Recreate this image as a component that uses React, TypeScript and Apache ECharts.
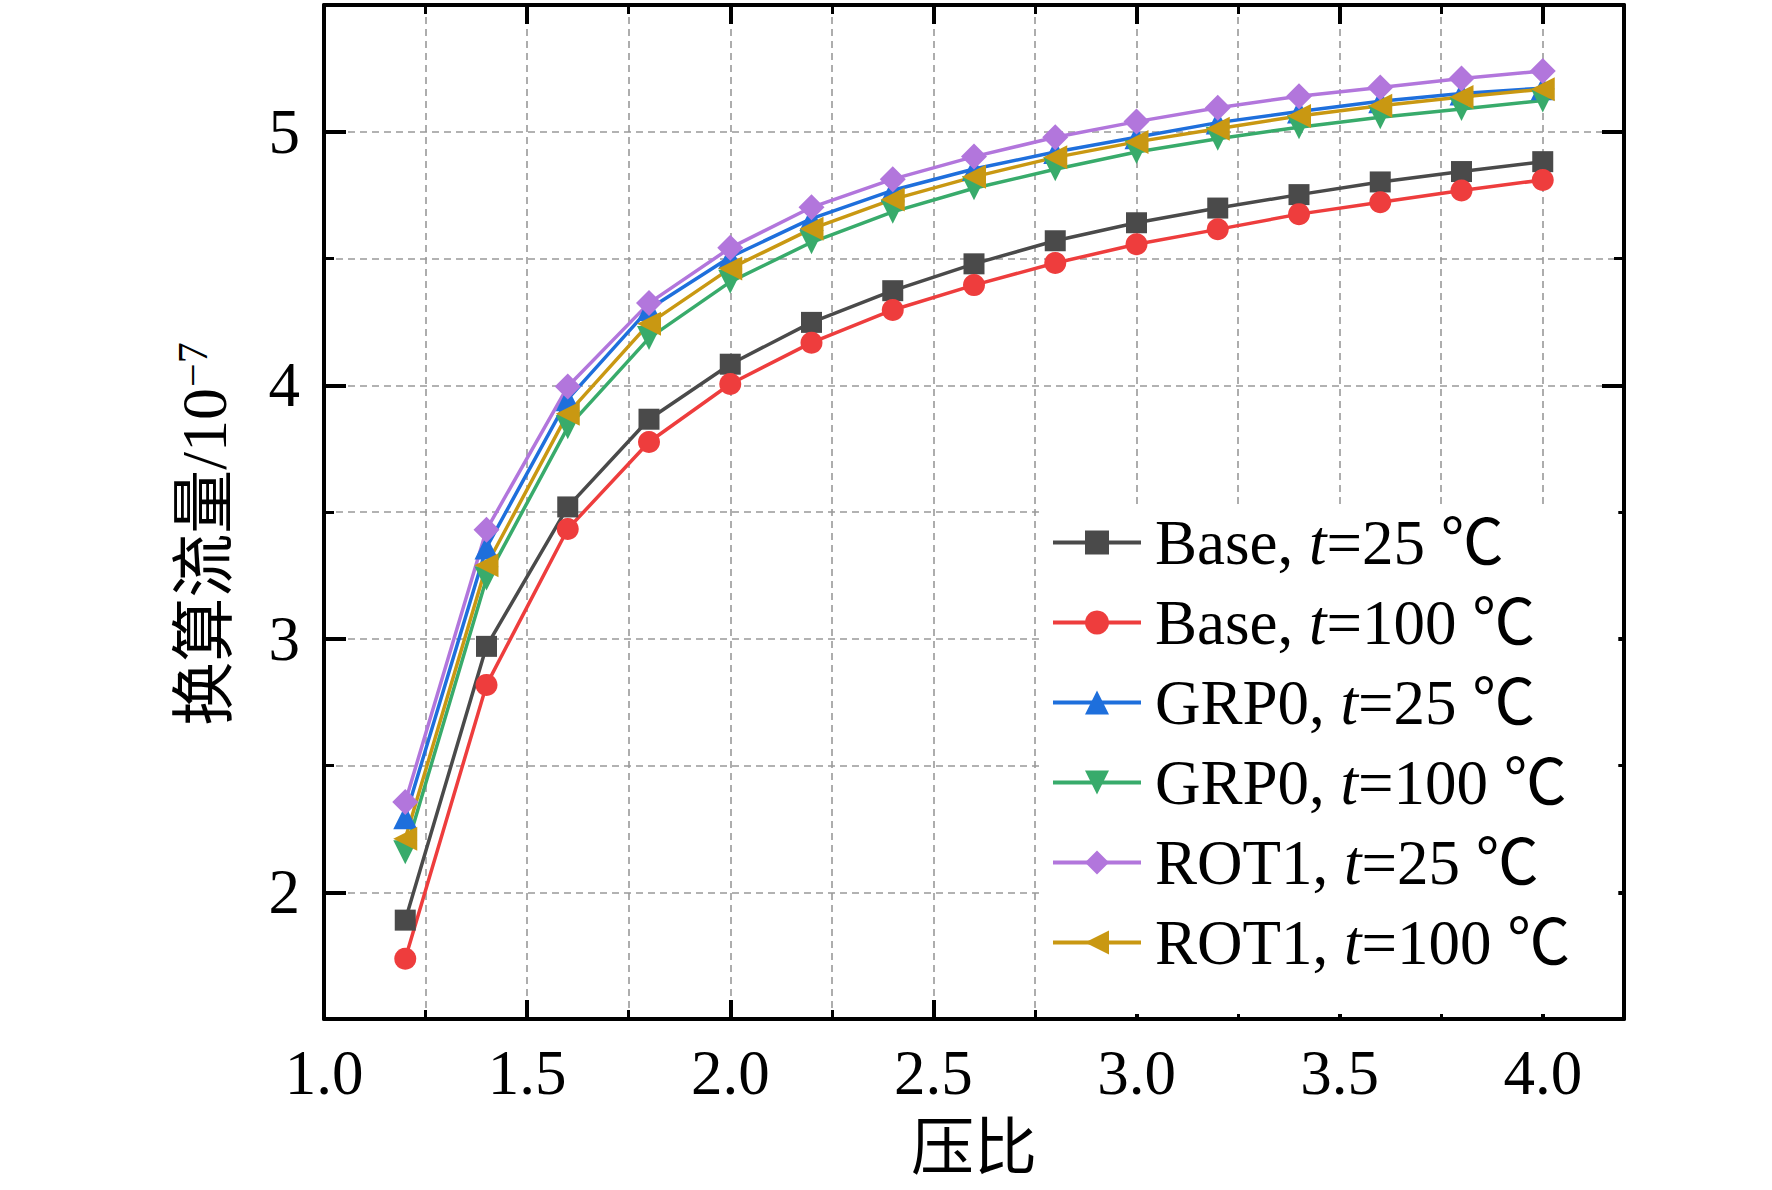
import React, { useEffect, useRef } from "react";
import * as echarts from "echarts";

const xValues = [1.2, 1.4, 1.6, 1.8, 2.0, 2.2, 2.4, 2.6, 2.8, 3.0, 3.2, 3.4, 3.6, 3.8, 4.0];
const base25 = [1.89, 2.97, 3.52, 3.866, 4.083, 4.248, 4.373, 4.479, 4.57, 4.641, 4.699, 4.752, 4.802, 4.843, 4.882];
const base100 = [1.738, 2.818, 3.433, 3.776, 4.005, 4.168, 4.297, 4.395, 4.482, 4.556, 4.615, 4.675, 4.722, 4.768, 4.81];
const grp25 = [2.296, 3.36, 3.945, 4.301, 4.506, 4.657, 4.769, 4.853, 4.92, 4.978, 5.036, 5.08, 5.12, 5.151, 5.172];
const grp100 = [2.158, 3.238, 3.834, 4.186, 4.408, 4.564, 4.684, 4.777, 4.852, 4.92, 4.972, 5.018, 5.057, 5.09, 5.123];
const rot25 = [2.356, 3.43, 3.995, 4.324, 4.542, 4.702, 4.813, 4.902, 4.978, 5.04, 5.095, 5.14, 5.175, 5.21, 5.24];
const rot100 = [2.211, 3.29, 3.888, 4.243, 4.461, 4.617, 4.733, 4.822, 4.899, 4.96, 5.012, 5.062, 5.103, 5.137, 5.168];

const seriesNames = [
  "Base, t=25 ℃",
  "Base, t=100 ℃",
  "GRP0, t=25 ℃",
  "GRP0, t=100 ℃",
  "ROT1, t=25 ℃",
  "ROT1, t=100 ℃",
];
const seriesValues = [base25, base100, grp25, grp100, rot25, rot100];
const seriesColors = ["#4a4a4a", "#ee3d3d", "#1e6fdc", "#38ab6b", "#b276dc", "#c99812"];
const seriesSymbols = ["rect", "circle", "triangle", "triangle", "diamond", "triangle"];
const seriesRotate = [0, 0, 0, 180, 0, 90];
const seriesSymbolSize = [21, 22, 24, 24, 26, 24];

const yMajorTicks = [2, 3, 4, 5];

const FONT = "'Liberation Serif', 'Noto Sans CJK SC', serif";

export default function App() {
  const ref = useRef<HTMLDivElement>(null);

  useEffect(() => {
    document.body.style.margin = "0";
    if (!ref.current) return;
    const chart = echarts.init(ref.current, null, { renderer: "svg" });

    const gridLine = { show: true, lineStyle: { color: "#999", width: 1.6, type: [7, 5] as any } };
    const black = { color: "#000", width: 4 };

    const xCommon = { type: "value", min: 1, max: 4.2 };
    const yCommon = { type: "value", min: 1.5, max: 5.5 };

    const option: any = {
      animation: false,
      backgroundColor: "#fff",
      grid: { left: 324, right: 148, top: 5, bottom: 171, containLabel: false },
      xAxis: [
        {
          ...xCommon,
          position: "bottom",
          interval: 0.25,
          axisLine: { show: true, onZero: false, lineStyle: black },
          axisTick: { show: true, inside: true, length: 9, lineStyle: { color: "#000", width: 3 } },
          axisLabel: {
            show: true,
            margin: 22,
            fontFamily: FONT,
            fontSize: 63,
            color: "#000",
            formatter: (v: number) =>
              Math.abs(v * 2 - Math.round(v * 2)) < 1e-9 && v <= 4.0001 ? v.toFixed(1) : "",
          },
          splitLine: gridLine,
          name: "压比",
          nameLocation: "middle",
          nameGap: 97,
          nameTextStyle: { fontFamily: FONT, fontSize: 63, color: "#000" },
        },
        {
          ...xCommon,
          position: "bottom",
          interval: 0.5,
          axisLine: { show: false, onZero: false },
          axisTick: { show: true, inside: true, length: 19, lineStyle: { color: "#000", width: 4 } },
          axisLabel: { show: false },
          splitLine: { show: false },
        },
        {
          ...xCommon,
          position: "top",
          interval: 0.25,
          axisLine: { show: true, onZero: false, lineStyle: black },
          axisTick: { show: true, inside: true, length: 9, lineStyle: { color: "#000", width: 3 } },
          axisLabel: { show: false },
          splitLine: { show: false },
        },
        {
          ...xCommon,
          position: "top",
          interval: 0.5,
          axisLine: { show: false, onZero: false },
          axisTick: { show: true, inside: true, length: 19, lineStyle: { color: "#000", width: 4 } },
          axisLabel: { show: false },
          splitLine: { show: false },
        },
      ],
      yAxis: [
        {
          ...yCommon,
          position: "left",
          interval: 0.5,
          axisLine: { show: true, onZero: false, lineStyle: black },
          axisTick: { show: true, inside: true, length: 10, lineStyle: { color: "#000", width: 3 } },
          axisLabel: {
            show: true,
            margin: 24,
            fontFamily: FONT,
            fontSize: 63,
            color: "#000",
            formatter: (v: number) => (Math.abs(v - Math.round(v)) < 1e-9 ? String(Math.round(v)) : ""),
          },
          splitLine: gridLine,
          name: "{a|换算流量/10}{b|−7}",
          nameLocation: "middle",
          nameGap: 88,
          nameRotate: 90,
          nameTextStyle: {
            fontFamily: FONT,
            fontSize: 64,
            color: "#000",
            padding: [0, 44, 0, 0],
            rich: {
              a: { fontFamily: FONT, fontSize: 64, lineHeight: 64, color: "#000" },
              b: { fontFamily: FONT, fontSize: 42, lineHeight: 42, verticalAlign: "top", color: "#000", padding: [0, 0, 0, 1] },
            },
          },
        },
        {
          ...yCommon,
          position: "left",
          interval: 0.5,
          axisLine: { show: false, onZero: false },
          axisTick: {
            show: true,
            inside: true,
            length: 22,
            customValues: yMajorTicks,
            lineStyle: { color: "#000", width: 4 },
          },
          axisLabel: { show: false },
          splitLine: { show: false },
        },
        {
          ...yCommon,
          position: "right",
          interval: 0.5,
          axisLine: { show: true, onZero: false, lineStyle: black },
          axisTick: { show: true, inside: true, length: 10, lineStyle: { color: "#000", width: 3 } },
          axisLabel: { show: false },
          splitLine: { show: false },
        },
        {
          ...yCommon,
          position: "right",
          interval: 0.5,
          axisLine: { show: false, onZero: false },
          axisTick: {
            show: true,
            inside: true,
            length: 22,
            customValues: yMajorTicks,
            lineStyle: { color: "#000", width: 4 },
          },
          axisLabel: { show: false },
          splitLine: { show: false },
        },
      ],
      legend: {
        orient: "vertical",
        left: 1040,
        top: 509,
        padding: [2, 48, 40, 11],
        backgroundColor: "#fff",
        itemWidth: 88,
        itemHeight: 30,
        itemGap: 17,
        selectedMode: false,
        data: seriesNames,
        formatter: (name: string) => name.replace("t=", "{i|t}="),
        lineStyle: { width: 4 },
        textStyle: {
          fontFamily: FONT,
          fontSize: 63,
          lineHeight: 63,
          color: "#000",
          padding: [0, 0, 0, 9],
          rich: {
            i: { fontFamily: FONT, fontSize: 63, lineHeight: 63, fontStyle: "italic", color: "#000" },
          },
        },
      },
      series: seriesNames.map((name, k) => ({
        name,
        type: "line",
        xAxisIndex: 0,
        yAxisIndex: 0,
        data: xValues.map((x, i) => [x, seriesValues[k][i]]),
        symbol: seriesSymbols[k],
        symbolRotate: seriesRotate[k],
        symbolSize: seriesSymbolSize[k],
        color: seriesColors[k],
        lineStyle: { color: seriesColors[k], width: 3.5 },
        itemStyle: { color: seriesColors[k] },
        emphasis: { disabled: true },
      })),
    };

    chart.setOption(option);
    return () => {
      chart.dispose();
    };
  }, []);

  return <div ref={ref} style={{ width: 1772, height: 1190 }} />;
}
